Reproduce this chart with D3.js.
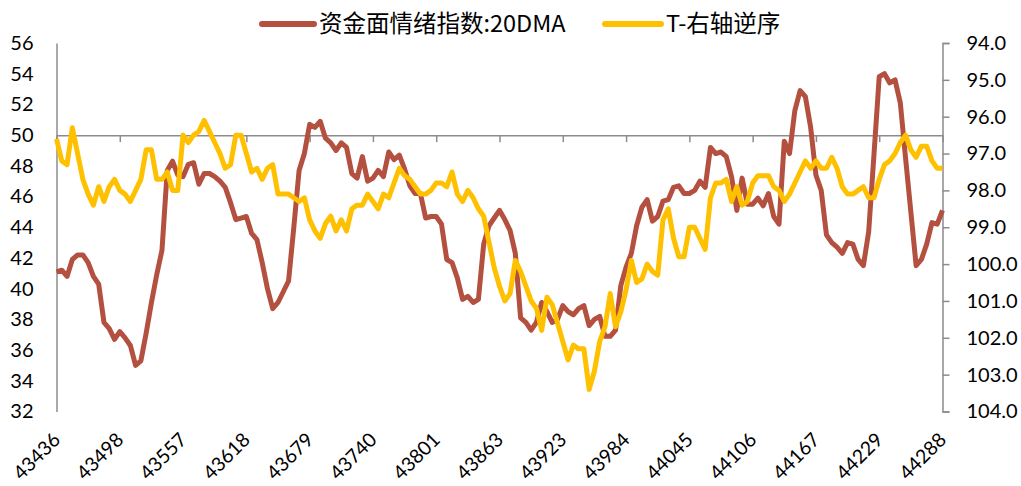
<!DOCTYPE html>
<html lang="zh">
<head>
    <meta charset="UTF-8">
    <script src="https://d3js.org/d3.v7.min.js"></script>
    <title>资金面情绪指数</title>
    <style>
        body { margin: 0; background: #fff; }
        #chart text { font-family: Lato, "Open Sans", sans-serif; fill: #000; }
        #chart .legend text { font-family: "Noto Sans CJK SC", sans-serif; }
    </style>
</head>
<body>
<div id="chart"></div>
<script>
    // x 轴标签 (每 12 个点一个)
    const tickLabels = ['43436','43498','43557','43618','43679','43740','43801','43863',
                        '43923','43984','44045','44106','44167','44229','44288']
    const tickStep = 12
    const leftTicks = [32,34,36,38,40,42,44,46,48,50,52,54,56]
    const rightTicks = [94,95,96,97,98,99,100,101,102,103,104]
    const seriesNames = ['资金面情绪指数:20DMA', 'T-右轴逆序']

    // 资金面情绪指数:20DMA (左轴)
    const moodIndex = [
        41.1, 41.2, 40.8, 41.9, 42.2, 42.2, 41.7, 40.8, 40.3, 37.8,
        37.4, 36.7, 37.2, 36.8, 36.3, 35.0, 35.3, 37.1, 39.1, 40.9,
        42.5, 47.7, 48.3, 47.4, 47.3, 48.1, 48.2, 46.8, 47.5, 47.5,
        47.3, 47.0, 46.6, 45.6, 44.5, 44.6, 44.7, 43.6, 43.2, 41.7,
        40.0, 38.7, 39.1, 39.8, 40.5, 44.0, 47.7, 48.8, 50.7, 50.5,
        50.9, 49.8, 49.5, 49.0, 49.5, 49.2, 47.5, 47.2, 48.6, 47.0,
        47.2, 47.7, 47.3, 48.9, 48.4, 48.7, 47.8, 46.7, 46.2, 46.2,
        44.6, 44.7, 44.7, 44.2, 41.9, 41.7, 40.7, 39.3, 39.5, 39.1,
        39.3, 42.9, 44.1, 44.6, 45.1, 44.5, 43.8, 42.3, 38.1, 37.8,
        37.3, 37.8, 39.1, 38.5, 37.8, 38.0, 38.9, 38.5, 38.3, 38.7,
        38.9, 37.6, 38.0, 38.2, 36.9, 36.9, 37.3, 40.2, 41.4, 42.3,
        44.1, 45.3, 45.8, 44.4, 44.7, 45.7, 45.8, 46.6, 46.7, 46.2,
        46.2, 46.4, 47.0, 46.6, 49.2, 48.8, 48.9, 48.6, 47.3, 45.1,
        47.2, 45.5, 45.5, 45.9, 45.4, 46.2, 44.7, 44.2, 49.6, 48.8,
        51.6, 52.9, 52.5, 50.5, 47.4, 46.4, 43.5, 43.0, 42.7, 42.3,
        43.0, 42.9, 41.9, 41.5, 43.7, 48.7, 53.8, 54.0, 53.4, 53.6,
        52.1, 48.5, 45.0, 41.5, 41.9, 42.9, 44.3, 44.2, 45.1
    ]

    // T (右轴, 逆序)
    const tFuture = [
        96.6, 97.2, 97.3, 96.3, 97.0, 97.7, 98.1, 98.4, 97.9, 98.3,
        97.9, 97.7, 98.0, 98.1, 98.3, 98.0, 97.7, 96.9, 96.9, 97.7,
        97.7, 97.5, 98.0, 98.0, 96.5, 96.7, 96.5, 96.4, 96.1, 96.4,
        96.7, 97.0, 97.4, 97.3, 96.5, 96.5, 97.0, 97.5, 97.4, 97.7,
        97.4, 97.3, 98.1, 98.1, 98.1, 98.2, 98.3, 98.2, 98.8, 99.1,
        99.3, 98.9, 98.7, 99.1, 98.8, 99.1, 98.5, 98.4, 98.4, 98.1,
        98.3, 98.5, 98.1, 98.2, 97.8, 97.4, 97.6, 97.7, 97.9, 98.1,
        98.1, 98.0, 97.8, 97.8, 97.9, 97.5, 98.1, 98.3, 98.0, 98.2,
        98.5, 98.7, 99.4, 100.1, 100.6, 101.0, 100.8, 99.9, 100.2, 100.6,
        101.0, 101.2, 101.8, 100.9, 101.1, 101.6, 102.1, 102.6, 102.2, 102.3,
        102.3, 103.4, 102.9, 102.1, 101.7, 100.8, 101.7, 101.3, 100.7, 99.9,
        100.5, 100.4, 100.0, 100.2, 100.3, 98.8, 98.5, 99.3, 99.8, 99.8,
        99.0, 99.0, 99.3, 99.6, 98.2, 97.8, 97.8, 97.7, 98.3, 97.9,
        98.4, 98.3, 97.8, 97.6, 97.6, 97.6, 97.9, 98.0, 98.3, 98.1,
        97.8, 97.5, 97.2, 97.4, 97.2, 97.4, 97.4, 97.1, 97.4, 97.9,
        98.1, 98.1, 98.0, 97.9, 98.2, 98.2, 97.7, 97.3, 97.2, 97.0,
        96.7, 96.5, 96.9, 97.1, 96.8, 96.8, 97.2, 97.4, 97.4
    ]

    const colors = ['#B4503F', '#FFC000']
    let vm = {}
    d3InitSet(vm)
    drawTicks(vm)
    drawLines(vm)
    drawLegend(vm)

    function d3InitSet(vm){
        vm.width = 1021
        vm.height = 486
        vm.plot = {left: 56.5, right: 942.5, top: 43, bottom: 411.5}

        vm.svg = d3.select('#chart').append('svg')
            .attr('width', vm.width)
            .attr('height', vm.height)

        // 按点序号等距排布
        vm.X = d3.scaleLinear()
            .domain([0, moodIndex.length - 1])
            .range([vm.plot.left, vm.plot.right])
        vm.YL = d3.scaleLinear()
            .domain([32, 56])
            .range([vm.plot.bottom, vm.plot.top])
        // 右轴逆序
        vm.YR = d3.scaleLinear()
            .domain([94, 104])
            .range([vm.plot.top, vm.plot.bottom])
    }

    function drawTicks(vm){
        const axisColor = '#8c8c8c'

        let gl = vm.svg.append('g')
            .attr('transform', 'translate(' + vm.plot.left + ',0)')
            .call(d3.axisLeft(vm.YL).tickValues(leftTicks).tickSize(0).tickPadding(23))
        let gr = vm.svg.append('g')
            .attr('transform', 'translate(' + vm.plot.right + ',0)')
            .call(d3.axisRight(vm.YR).tickValues(rightTicks).tickSize(7).tickPadding(17)
                .tickFormat(d3.format('.1f')))

        // 横轴穿过左轴 50 处
        let tickIdx = tickLabels.map((d, i) => i * tickStep)
        let gx = vm.svg.append('g')
            .attr('transform', 'translate(0,' + vm.YL(50) + ')')
            .call(d3.axisBottom(vm.X).tickValues(tickIdx).tickSize(7).tickSizeOuter(0).tickFormat(''))

        ;[gl, gr, gx].forEach(g => {
            g.selectAll('path, line').attr('stroke', axisColor).attr('stroke-width', 1.5)
            g.selectAll('text').style('font-size', '20px').attr('fill', '#000')
        })

        // 旋转的日期标签放在底部
        vm.svg.append('g').selectAll('text')
            .data(tickLabels)
            .enter()
            .append('text')
            .attr('text-anchor', 'end')
            .attr('transform', (d, i) => 'translate(' + (vm.X(i * tickStep) + 5) + ',441) rotate(-45)')
            .style('font-size', '19.5px')
            .text(d => d)
    }

    function drawLines(vm){
        let lineL = d3.line().x((d, i) => vm.X(i)).y(d => vm.YL(d))
        let lineR = d3.line().x((d, i) => vm.X(i)).y(d => vm.YR(d))

        vm.svg.append('path')
            .datum(moodIndex)
            .attr('d', lineL)
            .attr('fill', 'none')
            .attr('stroke', colors[0])
            .attr('stroke-width', 5)
            .attr('stroke-linejoin', 'round')

        vm.svg.append('path')
            .datum(tFuture)
            .attr('d', lineR)
            .attr('fill', 'none')
            .attr('stroke', colors[1])
            .attr('stroke-width', 5)
            .attr('stroke-linejoin', 'round')
    }

    function drawLegend(vm){
        let pos = [{x: 262, w: 52}, {x: 605, w: 56}]
        let g = vm.svg.append('g').attr('class', 'legend')
        seriesNames.forEach((name, i) => {
            g.append('line')
                .attr('x1', pos[i].x).attr('x2', pos[i].x + pos[i].w)
                .attr('y1', 24).attr('y2', 24)
                .attr('stroke', colors[i])
                .attr('stroke-width', 6)
                .attr('stroke-linecap', 'round')
            g.append('text')
                .attr('x', pos[i].x + pos[i].w + 5)
                .attr('y', 24)
                .attr('dy', '0.35em')
                .style('font-size', '23.5px')
                .text(name)
        })
    }
</script>
</body>
</html>
